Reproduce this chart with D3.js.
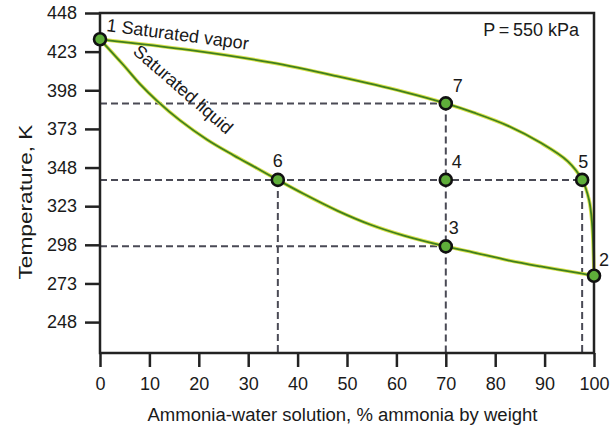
<!DOCTYPE html>
<html>
<head>
<meta charset="utf-8">
<script src="https://cdn.jsdelivr.net/npm/d3@7"></script>
<style>
  html, body { margin: 0; padding: 0; background: #fff; }
  text { font-family: "Liberation Sans", Arial, sans-serif; fill: #1a1a1a; }
</style>
</head>
<body>
<svg id="chart" width="610" height="426"></svg>
<script>
// ---- data ----
const xTicks = [0, 10, 20, 30, 40, 50, 60, 70, 80, 90, 100];
const yTicks = [248, 273, 298, 323, 348, 373, 398, 423, 448];

const vaporX = [0, 18.3, 34.5, 48.1, 61.5, 70, 75.7, 82.6, 89.2, 94.7, 97.6, 99.0, 99.6, 100];
const vaporT = [431, 424, 416, 407, 397, 389.5, 383.5, 375, 364, 352, 340, 327, 312, 278];

const liquidX = [0, 4.7, 8.1, 11.6, 16.2, 21.7, 27, 31.8, 36, 41.2, 48.1, 54.8, 61.5, 70, 75.7, 82.6, 89.2, 97.4, 100];
const liquidT = [431, 414.5, 402, 391, 378.5, 366, 356, 347.5, 340, 331, 320, 311, 304, 297, 293, 288, 284, 279.5, 278];

const stateIds = ["1", "2", "3", "4", "5", "6", "7"];
const stateX = [0, 100, 70, 70, 97.6, 36, 70];
const stateT = [431, 278, 297, 340, 340, 340, 389.5];

const xTitle = "Ammonia-water solution, % ammonia by weight";
const yTitle = "Temperature, K";
const pressureLabel = "P\u2009=\u2009550 kPa";

// ---- layout ----
const W = 610, H = 426;
const m = { left: 100, right: 16, top: 13, bottom: 73 };
const svg = d3.select("#chart");

const x = d3.scaleLinear().domain([0, 100]).range([m.left, W - m.right]);
const y = d3.scaleLinear().domain([228, 448]).range([H - m.bottom, m.top]);

const axisColor = "#222";
const fontSize = 18;
const fontFamily = "Liberation Sans, Arial, sans-serif";

// dashed guide lines
const guide = svg.append("g").attr("stroke", "#4a4a55").attr("stroke-width", 2)
  .attr("stroke-dasharray", "7,4").attr("fill", "none");
const st = stateIds.map((id, i) => ({ id, x: stateX[i], t: stateT[i] }));
const byId = Object.fromEntries(st.map(d => [d.id, d]));
["7", "5", "3"].forEach(id => {
  const p = byId[id];
  guide.append("line").attr("x1", x(0)).attr("x2", x(p.x)).attr("y1", y(p.t)).attr("y2", y(p.t));
});
["6", "7", "5"].forEach(id => {
  const p = byId[id];
  guide.append("line").attr("x1", x(p.x)).attr("x2", x(p.x)).attr("y1", y(p.t)).attr("y2", y(228));
});

// curves
const line = d3.line().x(d => x(d[0])).y(d => y(d[1])).curve(d3.curveCatmullRom.alpha(0.5));
const vapor = vaporX.map((v, i) => [v, vaporT[i]]);
const liquid = liquidX.map((v, i) => [v, liquidT[i]]);
[vapor, liquid].forEach(data => {
  svg.append("path").attr("d", line(data)).attr("fill", "none")
    .attr("stroke", "#d8e24c").attr("stroke-width", 3.6);
  svg.append("path").attr("d", line(data)).attr("fill", "none")
    .attr("stroke", "#3f7f1f").attr("stroke-width", 1.8);
});

// frame
svg.append("path").attr("stroke", axisColor).attr("stroke-width", 2.5).attr("fill", "none")
  .attr("d", `M${x(0)},${y(228)} L${x(0)},${y(448)} L${x(100)},${y(448)} L${x(100)},${y(228)} Z`);

// x axis
const xAxis = d3.axisBottom(x).tickValues(xTicks).tickSize(14).tickPadding(10).tickSizeOuter(0);
const gx = svg.append("g").attr("transform", `translate(0,${y(228)})`).call(xAxis);
gx.select(".domain").remove();
gx.selectAll(".tick line").attr("stroke", axisColor).attr("stroke-width", 2.5);
gx.selectAll(".tick text").attr("font-size", fontSize).attr("font-family", fontFamily).attr("fill", "#1a1a1a");

// y axis
const yAxis = d3.axisLeft(y).tickValues(yTicks).tickSize(15).tickPadding(8).tickSizeOuter(0);
const gy = svg.append("g").attr("transform", `translate(${x(0)},0)`).call(yAxis);
gy.select(".domain").remove();
gy.selectAll(".tick line").attr("stroke", axisColor).attr("stroke-width", 2.5);
gy.selectAll(".tick text").attr("font-size", fontSize).attr("font-family", fontFamily).attr("fill", "#1a1a1a");

// axis titles
svg.append("text").attr("x", 342.5).attr("y", 421)
  .attr("text-anchor", "middle").attr("font-size", 18)
  .attr("textLength", 390).attr("lengthAdjust", "spacingAndGlyphs").text(xTitle);
svg.append("text").attr("transform", `translate(32,202) rotate(-90)`)
  .attr("text-anchor", "middle").attr("font-size", 18)
  .attr("textLength", 155).attr("lengthAdjust", "spacingAndGlyphs").text(yTitle);

// state points
svg.append("g").selectAll("circle").data(st).join("circle")
  .attr("cx", d => x(d.x)).attr("cy", d => y(d.t)).attr("r", 6)
  .attr("fill", "#5fae3a").attr("stroke", "#111").attr("stroke-width", 2.6);

// point labels (offsets are styling)
const labelOffset = { "2": [5, -10], "3": [3, -12], "4": [6, -12], "5": [-4, -12], "6": [-5, -13], "7": [7, -11] };
svg.append("g").selectAll("text").data(st.filter(d => d.id !== "1")).join("text")
  .attr("x", d => x(d.x) + labelOffset[d.id][0]).attr("y", d => y(d.t) + labelOffset[d.id][1])
  .attr("font-size", fontSize).text(d => d.id);

// curve annotations
svg.append("text").attr("transform", `translate(106,31) rotate(7.5)`)
  .attr("font-size", fontSize).text("1 Saturated vapor");
svg.append("text").attr("transform", `translate(132,53) rotate(41)`)
  .attr("font-size", fontSize).text("Saturated liquid");

// pressure label
svg.append("text").attr("x", 579).attr("y", 36).attr("text-anchor", "end")
  .attr("font-size", fontSize).text(pressureLabel);
</script>
</body>
</html>
